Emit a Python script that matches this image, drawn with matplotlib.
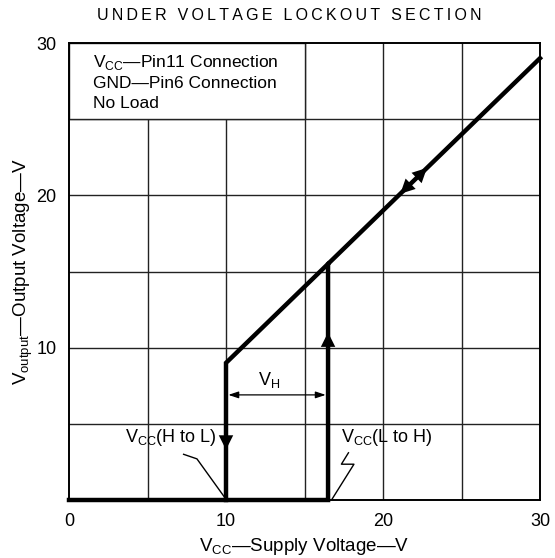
import matplotlib
matplotlib.use("Agg")
import matplotlib.pyplot as plt
import matplotlib.patches as mpatches

plt.rcParams["font.family"] = ["Liberation Sans", "DejaVu Sans"]
plt.rcParams["mathtext.fontset"] = "custom"
plt.rcParams["mathtext.rm"] = "Liberation Sans"

# ── Data ───────────────────────────────────────────────────────────────────────
# rising path: output held low until V_CC(L to H), then follows V_CC - 1
rise_x = [0, 16.5, 16.5, 30]
rise_y = [0, 0, 15.5, 29]
# falling path: follows V_CC - 1 down to V_CC(H to L), then drops to 0
fall_x = [16.5, 10, 10]
fall_y = [15.5, 9, 0]

x_ticks = [0, 10, 20, 30]
y_ticks = [10, 20, 30]
grid_vals = [5, 10, 15, 20, 25]

# arrow heads: (tip, tail) pairs along the curve
arrow_heads = [
    ((10, 3.3), (10, 4.4)),        # falling edge
    ((16.5, 11.0), (16.5, 9.9)),   # rising edge
    ((22.8, 21.8), (22.0, 21.0)),  # up the diagonal
    ((21.1, 20.1), (21.9, 20.9)),  # down the diagonal
]
vh_left, vh_right, vh_y = 10, 16.5, 6.9

legend_lines = [
    r"V$_\mathregular{CC}$—Pin11 Connection",
    "GND—Pin6 Connection",
    "No Load",
]
title = "UNDER VOLTAGE LOCKOUT SECTION"

# ── Figure ─────────────────────────────────────────────────────────────────────
fig = plt.figure(figsize=(5.55, 5.58), dpi=100)
ax = fig.add_axes([69 / 555, 58 / 558, 471 / 555, 457 / 558])
ax.set_xlim(0, 30)
ax.set_ylim(0, 30)

# grid (hidden behind the note box in the top-left corner)
for g in grid_vals:
    ax.axvline(g, color="#222222", lw=1.0, zorder=1)
    ax.axhline(g, color="#222222", lw=1.0, zorder=1)
ax.add_patch(mpatches.Rectangle((0, 25), 15, 5, facecolor="white",
                                edgecolor="#222222", lw=1.0, zorder=2))

for i, line in enumerate(legend_lines):
    ax.text(1.5, 28.7 - i * 1.35, line, fontsize=12.5, va="center", ha="left", zorder=3)

# curve
ax.plot(rise_x, rise_y, color="black", lw=3.2, solid_joinstyle="miter", zorder=4,
        clip_on=False)
ax.plot(fall_x, fall_y, color="black", lw=3.2, solid_joinstyle="miter", zorder=4,
        clip_on=False)
for tip, tail in arrow_heads:
    ax.annotate("", xy=tip, xytext=tail,
                arrowprops=dict(arrowstyle="-|>", color="black", lw=0,
                                mutation_scale=26, shrinkA=0, shrinkB=0),
                zorder=5)

# hysteresis dimension
ax.annotate("", xy=(vh_left + 0.15, vh_y), xytext=(vh_right - 0.15, vh_y),
            arrowprops=dict(arrowstyle="<|-|>,head_length=0.6,head_width=0.2",
                            color="black", lw=0.9,
                            mutation_scale=10, shrinkA=0, shrinkB=0), zorder=4)
ax.text(12.75, 7.9, r"V$_\mathregular{H}$", fontsize=13, ha="center", va="center")

# threshold labels with leaders
ax.text(9.4, 4.1, r"V$_\mathregular{CC}$(H to L)", fontsize=13, ha="right", va="center",
        zorder=5)
ax.plot([7.3, 8.15, 10], [3.0, 2.7, 0.05], color="black", lw=1.0, zorder=5)
ax.text(17.3, 4.1, r"V$_\mathregular{CC}$(L to H)", fontsize=13, ha="left", va="center",
        zorder=5)
ax.plot([17.8, 17.35, 18.15, 16.75], [3.1, 2.35, 2.35, 0.05], color="black", lw=1.0,
        zorder=5)

# axes styling
ax.set_xticks(x_ticks)
ax.set_yticks(y_ticks)
ax.tick_params(length=0, labelsize=13, pad=9)
for spine in ax.spines.values():
    spine.set_linewidth(1.4)
ax.set_xlabel(r"V$_\mathregular{CC}$—Supply Voltage—V", fontsize=13.5, labelpad=5)
ax.set_ylabel(r"V$_\mathregular{output}$—Output Voltage—V", fontsize=13.5, labelpad=1)

fig.text(289 / 555, 1 - 15 / 558, "\u2009".join(title),
         ha="center", va="center", fontsize=11.5, family=["Liberation Sans", "DejaVu Sans"])

fig.savefig("out.png", dpi=100)
